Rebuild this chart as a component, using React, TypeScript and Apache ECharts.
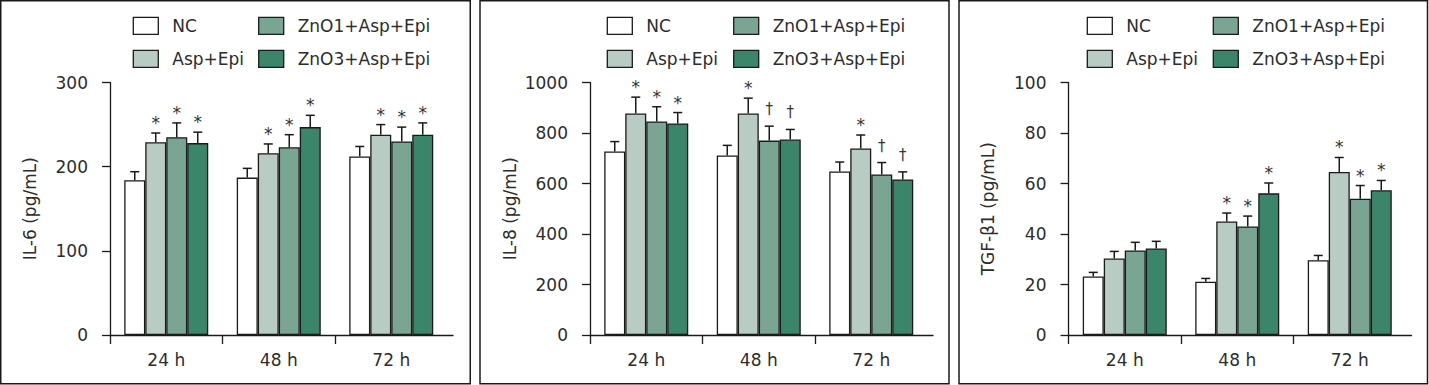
import { useEffect, useRef } from "react";
import * as echarts from "echarts";

// ---------- DATA ----------
const categories = ["24 h", "48 h", "72 h"];
const seriesNames = ["NC", "Asp+Epi", "ZnO1+Asp+Epi", "ZnO3+Asp+Epi"];
const seriesColors = ["#ffffff", "#b8ccc3", "#7aa592", "#3b856a"];

// IL-6 (pg/mL)
const il6NC = [184, 187, 212];
const il6Asp = [229, 216, 238];
const il6ZnO1 = [235, 223, 230];
const il6ZnO3 = [228, 247, 238];
const il6ErrNC = [10, 11, 12];
const il6ErrAsp = [11, 11, 12];
const il6ErrZnO1 = [17, 15, 17];
const il6ErrZnO3 = [13, 14, 14];
const il6MarksNC = ["", "", ""];
const il6MarksAsp = ["*", "*", "*"];
const il6MarksZnO1 = ["*", "*", "*"];
const il6MarksZnO3 = ["*", "*", "*"];

// IL-8 (pg/mL)
const il8NC = [727, 711, 648];
const il8Asp = [877, 877, 739];
const il8ZnO1 = [846, 770, 636];
const il8ZnO3 = [838, 774, 616];
const il8ErrNC = [39, 40, 37];
const il8ErrAsp = [65, 61, 53];
const il8ErrZnO1 = [58, 57, 47];
const il8ErrZnO3 = [43, 40, 30];
const il8MarksNC = ["", "", ""];
const il8MarksAsp = ["*", "*", "*"];
const il8MarksZnO1 = ["*", "†", "†"];
const il8MarksZnO3 = ["*", "†", "†"];

// TGF-β1 (pg/mL)
const tgfNC = [23.2, 21.1, 29.6];
const tgfAsp = [30.3, 45.0, 64.6];
const tgfZnO1 = [33.5, 43.0, 54.0];
const tgfZnO3 = [34.3, 56.1, 57.3];
const tgfErrNC = [1.6, 1.3, 1.9];
const tgfErrAsp = [2.8, 3.3, 5.7];
const tgfErrZnO1 = [3.2, 4.1, 5.2];
const tgfErrZnO3 = [2.8, 4.1, 3.9];
const tgfMarksNC = ["", "", ""];
const tgfMarksAsp = ["", "*", "*"];
const tgfMarksZnO1 = ["", "*", "*"];
const tgfMarksZnO3 = ["", "*", "*"];

const yTitles = ["IL-6 (pg/mL)", "IL-8 (pg/mL)", "TGF-β1 (pg/mL)"];
const yMax = [300, 1000, 100];
const yInterval = [100, 200, 20];

const panelMeans = [
  [il6NC, il6Asp, il6ZnO1, il6ZnO3],
  [il8NC, il8Asp, il8ZnO1, il8ZnO3],
  [tgfNC, tgfAsp, tgfZnO1, tgfZnO3],
];
const panelErrs = [
  [il6ErrNC, il6ErrAsp, il6ErrZnO1, il6ErrZnO3],
  [il8ErrNC, il8ErrAsp, il8ErrZnO1, il8ErrZnO3],
  [tgfErrNC, tgfErrAsp, tgfErrZnO1, tgfErrZnO3],
];
const panelMarks = [
  [il6MarksNC, il6MarksAsp, il6MarksZnO1, il6MarksZnO3],
  [il8MarksNC, il8MarksAsp, il8MarksZnO1, il8MarksZnO3],
  [tgfMarksNC, tgfMarksAsp, tgfMarksZnO1, tgfMarksZnO3],
];

// ---------- LAYOUT ----------
const FONT = "DejaVu Sans";
const FS = 17;
const TEXT = "#2c2c2c";
const INK = "#1a1a1a";
const panelBox = [
  { x: 0.75, w: 469.5 },
  { x: 480, w: 469 },
  { x: 959, w: 468.5 },
];
const axisLeft = [110, 590, 1068.5];
const legendCol1 = [133.3, 607.3, 1087.3];
const legendCol2 = [258.7, 733.7, 1213.3];
const GRID_TOP = 82.5;
const GRID_H = 252.5;
const CAT_W = 112.5;
const AXIS_W = 343;
const BAR_W = 21;

function buildOption() {
  const grid: any[] = [];
  const xAxis: any[] = [];
  const yAxis: any[] = [];
  const series: any[] = [];
  const graphic: any[] = [];

  for (let p = 0; p < 3; p++) {
    const a = 2 * p;
    const b = 2 * p + 1;
    grid.push({ left: axisLeft[p], top: GRID_TOP, width: CAT_W * categories.length, height: GRID_H });
    grid.push({ left: axisLeft[p], top: GRID_TOP, width: AXIS_W, height: GRID_H });

    xAxis.push({
      type: "category",
      gridIndex: a,
      data: categories,
      axisLine: { show: false },
      axisTick: { show: false },
      axisLabel: { margin: 16, fontSize: FS, color: TEXT, fontFamily: FONT },
    });
    xAxis.push({
      type: "value",
      gridIndex: b,
      min: 0,
      max: AXIS_W / CAT_W,
      splitLine: { show: false },
      axisLine: { show: true, lineStyle: { color: INK, width: 1.3 } },
      axisTick: { show: true, customValues: [0, 1, 2], length: 9, lineStyle: { color: INK, width: 1.3 } },
      axisLabel: { show: false },
    });
    yAxis.push({
      type: "value",
      gridIndex: a,
      min: 0,
      max: yMax[p],
      interval: yInterval[p],
      name: yTitles[p],
      nameLocation: "middle",
      nameGap: 72,
      nameTextStyle: { fontSize: FS, color: TEXT, fontFamily: FONT },
      splitLine: { show: false },
      axisLine: { show: true, lineStyle: { color: INK, width: 1.3 } },
      axisTick: { show: true, length: 8, lineStyle: { color: INK, width: 1.3 } },
      axisLabel: {
        margin: 22,
        fontSize: FS,
        color: TEXT,
        fontFamily: FONT,
        formatter: (v: number) => String(v),
      },
    });
    yAxis.push({ type: "value", gridIndex: b, show: false, min: 0, max: 1 });

    for (let i = 0; i < 4; i++) {
      const means = panelMeans[p][i];
      const errs = panelErrs[p][i];
      const marks = panelMarks[p][i];
      series.push({
        type: "bar",
        name: seriesNames[i],
        xAxisIndex: a,
        yAxisIndex: a,
        data: means,
        barWidth: BAR_W,
        barGap: "0%",
        itemStyle: { color: seriesColors[i], borderColor: INK, borderWidth: 1.3 },
        z: 2,
      });
      series.push({
        type: "custom",
        name: seriesNames[i] + " error",
        xAxisIndex: a,
        yAxisIndex: a,
        z: 3,
        data: means.map((m, j) => [j, m, m + errs[j]]),
        encode: { x: 0, y: [1, 2] },
        renderItem: (params: any, api: any) => {
          const j = api.value(0);
          const base = api.coord([j, api.value(1)]);
          const top = api.coord([j, api.value(2)]);
          const x = base[0] + (i - 1.5) * BAR_W;
          const mark = marks[params.dataIndex];
          const children: any[] = [
            { type: "line", shape: { x1: x, y1: base[1], x2: x, y2: top[1] }, style: { stroke: INK, lineWidth: 1.5 } },
            { type: "line", shape: { x1: x - 4.5, y1: top[1], x2: x + 4.5, y2: top[1] }, style: { stroke: INK, lineWidth: 1.5 } },
          ];
          if (mark) {
            const isStar = mark === "*";
            children.push({
              type: "text",
              style: {
                text: mark,
                x: x,
                y: top[1] - (isStar ? 10 : 17),
                align: "center",
                verticalAlign: "middle",
                textAlign: "center",
                textVerticalAlign: "middle",
                fontSize: isStar ? 17 : 15,
                fontFamily: FONT,
                fill: "#333333",
              },
            });
          }
          return { type: "group", children };
        },
      });
    }

    // panel border
    graphic.push({
      type: "rect",
      shape: { x: panelBox[p].x, y: 0.75, width: panelBox[p].w, height: 383 },
      style: { fill: "none", stroke: INK, lineWidth: 1.5 },
      silent: true,
    });

    // legend
    for (let i = 0; i < 4; i++) {
      const col = Math.floor(i / 2);
      const row = i % 2;
      const rx = col === 0 ? legendCol1[p] : legendCol2[p];
      const ry = row === 0 ? 17.3 : 50.3;
      graphic.push({
        type: "rect",
        shape: { x: rx, y: ry, width: 25, height: 17 },
        style: { fill: seriesColors[i], stroke: INK, lineWidth: 1.3 },
        silent: true,
      });
      graphic.push({
        type: "text",
        x: rx + 39,
        y: ry + 8.5,
        style: {
          text: seriesNames[i],
          fontSize: FS,
          fontFamily: FONT,
          fill: TEXT,
          align: "left",
          verticalAlign: "middle",
          textAlign: "left",
          textVerticalAlign: "middle",
        },
        silent: true,
      });
    }
  }

  return {
    animation: false,
    backgroundColor: "#ffffff",
    textStyle: { fontFamily: FONT },
    grid,
    xAxis,
    yAxis,
    series,
    graphic,
  };
}

export default function App() {
  const ref = useRef<HTMLDivElement>(null);
  useEffect(() => {
    if (!ref.current) return;
    const chart = echarts.init(ref.current, undefined, { renderer: "svg" });
    chart.setOption(buildOption() as any);
    return () => chart.dispose();
  }, []);
  return (
    <div
      ref={ref}
      style={{ position: "absolute", left: 0, top: 0, width: 1429, height: 385, background: "#fff" }}
    />
  );
}
